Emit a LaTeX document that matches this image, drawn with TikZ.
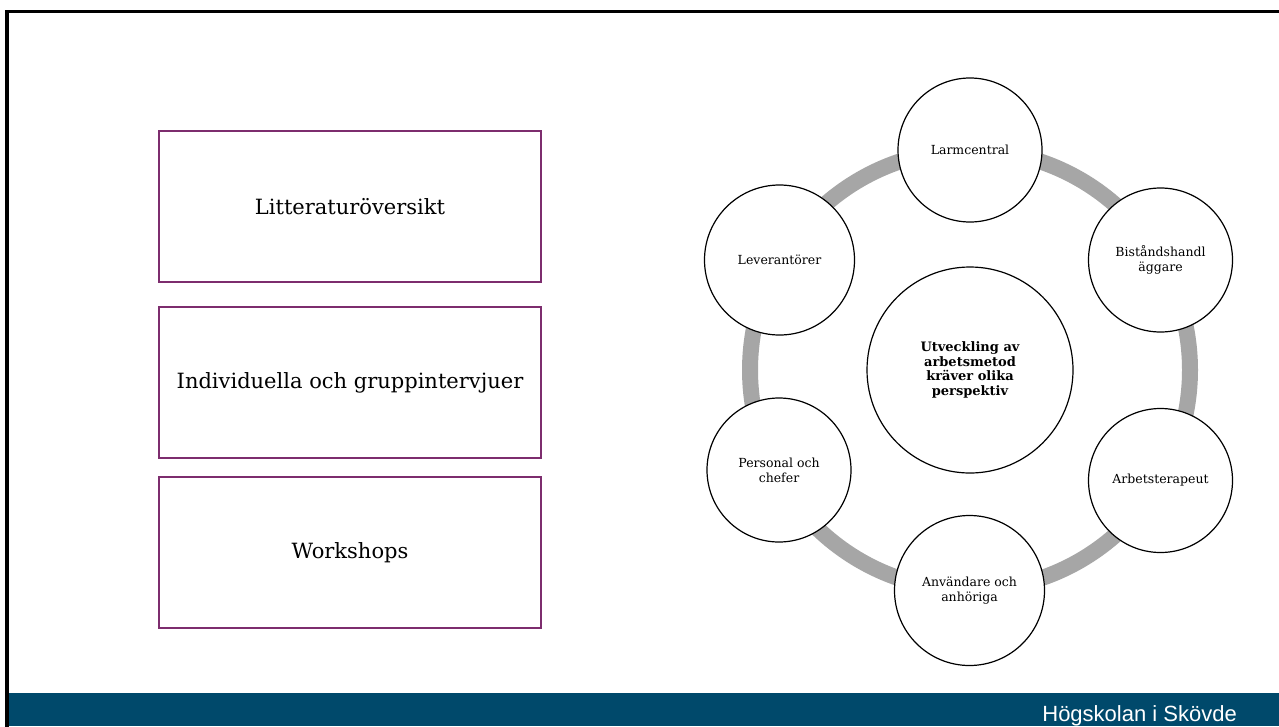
\documentclass[tikz,border=0pt]{standalone}
\usepackage{fontspec}
\setmainfont{DejaVu Serif}
\newfontfamily\footfont{Liberation Sans}
\definecolor{boxpurple}{RGB}{125,45,110}
\definecolor{ringgray}{RGB}{166,166,166}
\definecolor{footblue}{RGB}{0,73,107}
\tikzset{
  listbox/.style={draw=boxpurple, line width=1.4pt, fill=white, minimum width=382pt, minimum height=151pt, inner sep=0pt, font=\fontsize{21}{25}\selectfont},
  member/.style={circle, draw=black, line width=1.2pt, fill=white, minimum size=144pt, inner sep=0pt, align=center, font=\fontsize{12.5}{15}\selectfont},
  hub/.style={circle, draw=black, line width=1.2pt, fill=white, minimum size=206pt, inner sep=0pt, align=center, font=\bfseries\fontsize{13}{14.7}\selectfont},
  ring/.style={draw=ringgray, line width=16pt}
}
\begin{document}
\begin{tikzpicture}[x=1pt,y=-1pt]
\useasboundingbox (0,0) rectangle (1279,726);
\fill[white] (0,0) rectangle (1279,726);
% footer
\fill[footblue] (8,693) rectangle (1279,726);
\node[anchor=base east, text=white, inner sep=0pt, font=\footfont\fontsize{22}{26}\selectfont] (foot) at (1237,721) {Högskolan i Skövde};
% frame
\draw[line width=3.5pt, line cap=rect] (7,726) -- (7,11.5) -- (1279,11.5);
% left boxes
\node[listbox] (b1) at (350,206.5) {Litteraturöversikt};
\node[listbox] (b2) at (350,382.5) {Individuella och gruppintervjuer};
\node[listbox] (b3) at (350,552.5) {Workshops};
% ring
\coordinate (c) at (970,370);
\draw[ring] (c) circle (220pt);
\node[hub] (hub) at (c) {Utveckling av\\arbetsmetod\\kräver olika\\perspektiv};
\node[member] (m1) at (970,150) {Larmcentral};
\node[member] (m2) at (1160.5,260) {Biståndshandl\\äggare};
\node[member] (m3) at (1160.5,480.5) {Arbetsterapeut};
\node[member, minimum width=150pt, minimum height=144pt] (m4) at (969.5,590.5) {Användare och\\anhöriga};
\node[member] (m5) at (779,470) {Personal och\\chefer};
\node[member, minimum size=150pt] (m6) at (779.5,260) {Leverantörer};
\end{tikzpicture}
\end{document}
